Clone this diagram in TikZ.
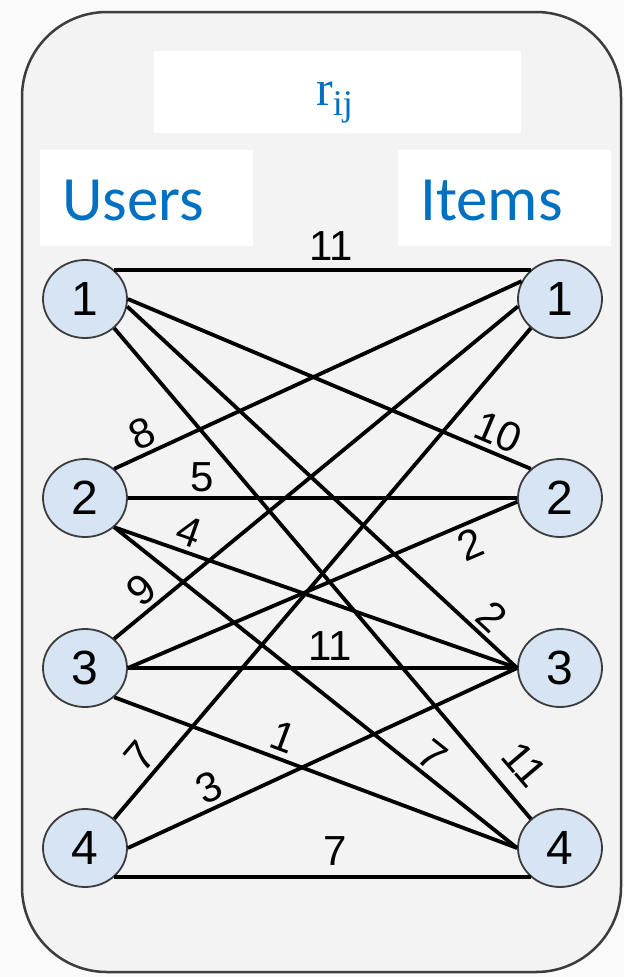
\documentclass[tikz,border=0pt]{standalone}
\usepackage{fontspec}
\setmainfont{Liberation Sans}
\newfontfamily\calibri{Carlito}
\newfontfamily\timesr{Liberation Serif}
\usepackage{tikz}
\usetikzlibrary{shapes.geometric}
\definecolor{Frame}{HTML}{3C3C3C}
\definecolor{Panel}{HTML}{F3F3F3}
\definecolor{Outside}{HTML}{FAFAFA}
\definecolor{Office}{HTML}{0070C0}
\definecolor{Bubble}{HTML}{D6E4F3}

\begin{document}
\begin{tikzpicture}[x=1pt,y=-1pt,
    vertex/.style={ellipse,draw=Frame,line width=1.8pt,fill=Bubble,minimum width=84pt,minimum height=78pt,inner sep=0pt,font=\fontsize{48}{48}\selectfont},
    edge/.style={line width=3.8pt,black},
    wt/.style={sloped,above,inner sep=4pt,font=\fontsize{42}{42}\selectfont},
    tagbox/.style={fill=white,inner sep=0pt,minimum height=96pt}]
  \useasboundingbox (0,0) rectangle (624,977);
  \fill[Outside] (0,0) rectangle (624,977);
  \draw[Frame,line width=2.5pt,fill=Panel,rounded corners=85pt] (22,12) rectangle (621,972);

  % headings
  \node[tagbox,minimum width=367pt,minimum height=82pt] (rbox) at (337,92) {};
  \node[anchor=base west,inner sep=0pt,text=Office] (rlabel) at (316,105)
    {\timesr\fontsize{50}{50}\selectfont r\raisebox{-10pt}{\fontsize{36}{36}\selectfont ij}};
  \node[tagbox,minimum width=213pt] (ubox) at (146.5,198) {};
  \node[anchor=base west,inner sep=0pt,text=Office] (users) at (62,220) {\calibri\fontsize{63}{63}\selectfont Users};
  \node[tagbox,minimum width=213pt] (ibox) at (504.5,198) {};
  \node[anchor=base west,inner sep=0pt,text=Office] (items) at (420,220) {\calibri\fontsize{63}{63}\selectfont Items};

  % users (left) and items (right)
  \foreach \n/\y in {1/299,2/498,3/668,4/848}{
    \node[vertex] (u\n) at (85,\y) {\n};
    \node[vertex] (i\n) at (560,\y) {\n};
  }

  % ratings
  \draw[edge] (u1.45) -- node[wt,pos=.52,inner sep=7pt] (w11) {11} (i1.135);
  \draw[edge] (u1.east) -- node[wt,pos=.9] (w12) {10} (i2.135);
  \draw[edge] (u1.-10) -- node[wt,pos=.9] (w13) {2} (i3.west);
  \draw[edge] (u1.-45) -- node[wt,pos=.93,inner sep=14pt] (w14) {11} (i4.135);
  \draw[edge] (u2.45) -- node[wt,pos=.09] (w21) {8} (i1.155);
  \draw[edge] (u2.east) -- node[wt,pos=.19] (w22) {5} (i2.west);
  \draw[edge] (u2.-45) -- node[wt,pos=.17] (w23) {4} (i3.west);
  \draw[edge] (u2.-45) -- node[wt,pos=.76] (w24) {7} (i4.west);
  \draw[edge] (u3.45) -- node[wt,pos=.1] (w31) {9} (i1.190);
  \draw[edge] (u3.east) -- node[wt,below,pos=.86] (w32) {2} (i2.185);
  \draw[edge] (u3.east) -- node[wt,pos=.52,inner sep=6pt] (w33) {11} (i3.west);
  \draw[edge] (u3.-45) -- node[wt,pos=.4,inner sep=6pt] (w34) {1} (i4.west);
  \draw[edge] (u4.45) -- node[wt,pos=.1] (w41) {7} (i1.225);
  \draw[edge] (u4.east) -- node[wt,pos=.23] (w43) {3} (i3.west);
  \draw[edge] (u4.-45) -- node[wt,pos=.53,inner sep=10pt] (w44) {7} (i4.-135);
\end{tikzpicture}
\end{document}
